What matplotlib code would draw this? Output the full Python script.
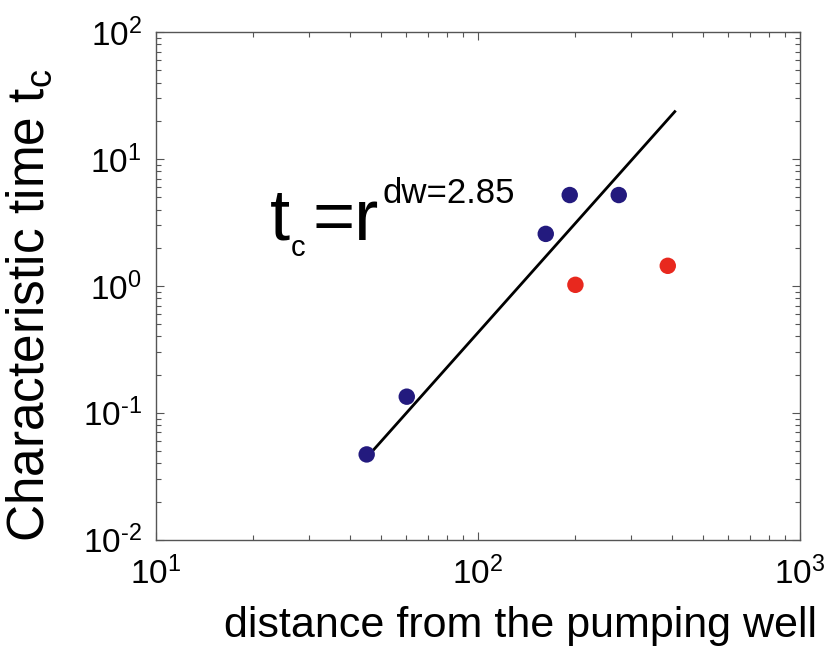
import numpy as np
import matplotlib
matplotlib.use("Agg")
import matplotlib.pyplot as plt
from matplotlib.ticker import LogLocator, FixedLocator

plt.rcParams['font.family'] = ['Liberation Sans', 'DejaVu Sans']
plt.rcParams['mathtext.fontset'] = 'custom'
plt.rcParams['mathtext.rm'] = 'Liberation Sans'
plt.rcParams['mathtext.it'] = 'Liberation Sans'
plt.rcParams['mathtext.bf'] = 'Liberation Sans'

# wells on the fitted trend (blue) and the two outliers (red)
dist_fit = [45.2, 60.2, 162.6, 193.0, 274.0]
tc_fit = [0.047, 0.134, 2.57, 5.2, 5.2]
dist_out = [201.0, 389.0]
tc_out = [1.02, 1.44]

# power law t_c = A * r^dw
dw = 2.85
log_prefactor = -6.07
line_r = [46.0, 409.0]

x_ticks = [10, 100, 1000]
x_labels = [r'10$^{\text{1}}$', r'10$^{\text{2}}$', r'10$^{\text{3}}$']
y_ticks = [0.01, 0.1, 1, 10, 100]
y_labels = [r'10$^{\text{-2}}$', r'10$^{\text{-1}}$', r'10$^{\text{0}}$',
            r'10$^{\text{1}}$', r'10$^{\text{2}}$']

fig = plt.figure(figsize=(8.28, 6.55), dpi=100)
ax = fig.add_axes([0.188, 0.176, 0.778, 0.775])

r = np.array(line_r)
ax.plot(r, 10 ** log_prefactor * r ** dw, color='black', lw=2, zorder=2)
ax.scatter(dist_fit, tc_fit, s=140, color='#231a7e', edgecolors='none', zorder=3)
ax.scatter(dist_out, tc_out, s=140, color='#e8281e', edgecolors='none', zorder=3)

ax.set_xscale('log')
ax.set_yscale('log')
ax.set_xlim(10, 1000)
ax.set_ylim(0.01, 100)
ax.xaxis.set_major_locator(FixedLocator(x_ticks))
ax.yaxis.set_major_locator(FixedLocator(y_ticks))
ax.xaxis.set_minor_locator(LogLocator(base=10, subs=np.arange(2, 10)))
ax.yaxis.set_minor_locator(LogLocator(base=10, subs=np.arange(2, 10)))
ax.set_xticklabels(x_labels)
ax.set_yticklabels(y_labels)
ax.tick_params(which='both', direction='in', top=True, right=True,
               color='#555555', width=0.8)
ax.tick_params(which='major', length=6, labelsize=24)
ax.tick_params(axis='x', which='major', pad=12)
ax.tick_params(axis='y', which='major', pad=10)
ax.tick_params(which='minor', length=3.5)
for sp in ax.spines.values():
    sp.set_color('#555555')
    sp.set_linewidth(1.0)

ax.set_xlabel('distance from the pumping well', fontsize=31)
ax.set_ylabel('Characteristic time t$_{\\mathregular{c}}$', fontsize=37)
ax.xaxis.set_label_coords(0.567, -0.130)
ax.yaxis.set_label_coords(-0.157, 0.461)

# equation annotation
ax.text(0.178, 0.591, 't', fontsize=52, transform=ax.transAxes, va='baseline')
ax.text(0.209, 0.559, 'c', fontsize=21, transform=ax.transAxes, va='baseline')
ax.text(0.243, 0.591, '=r', fontsize=52, transform=ax.transAxes, va='baseline')
ax.text(0.352, 0.663, 'dw=2.85', fontsize=25, transform=ax.transAxes, va='baseline')

fig.savefig('out.png', dpi=100)
